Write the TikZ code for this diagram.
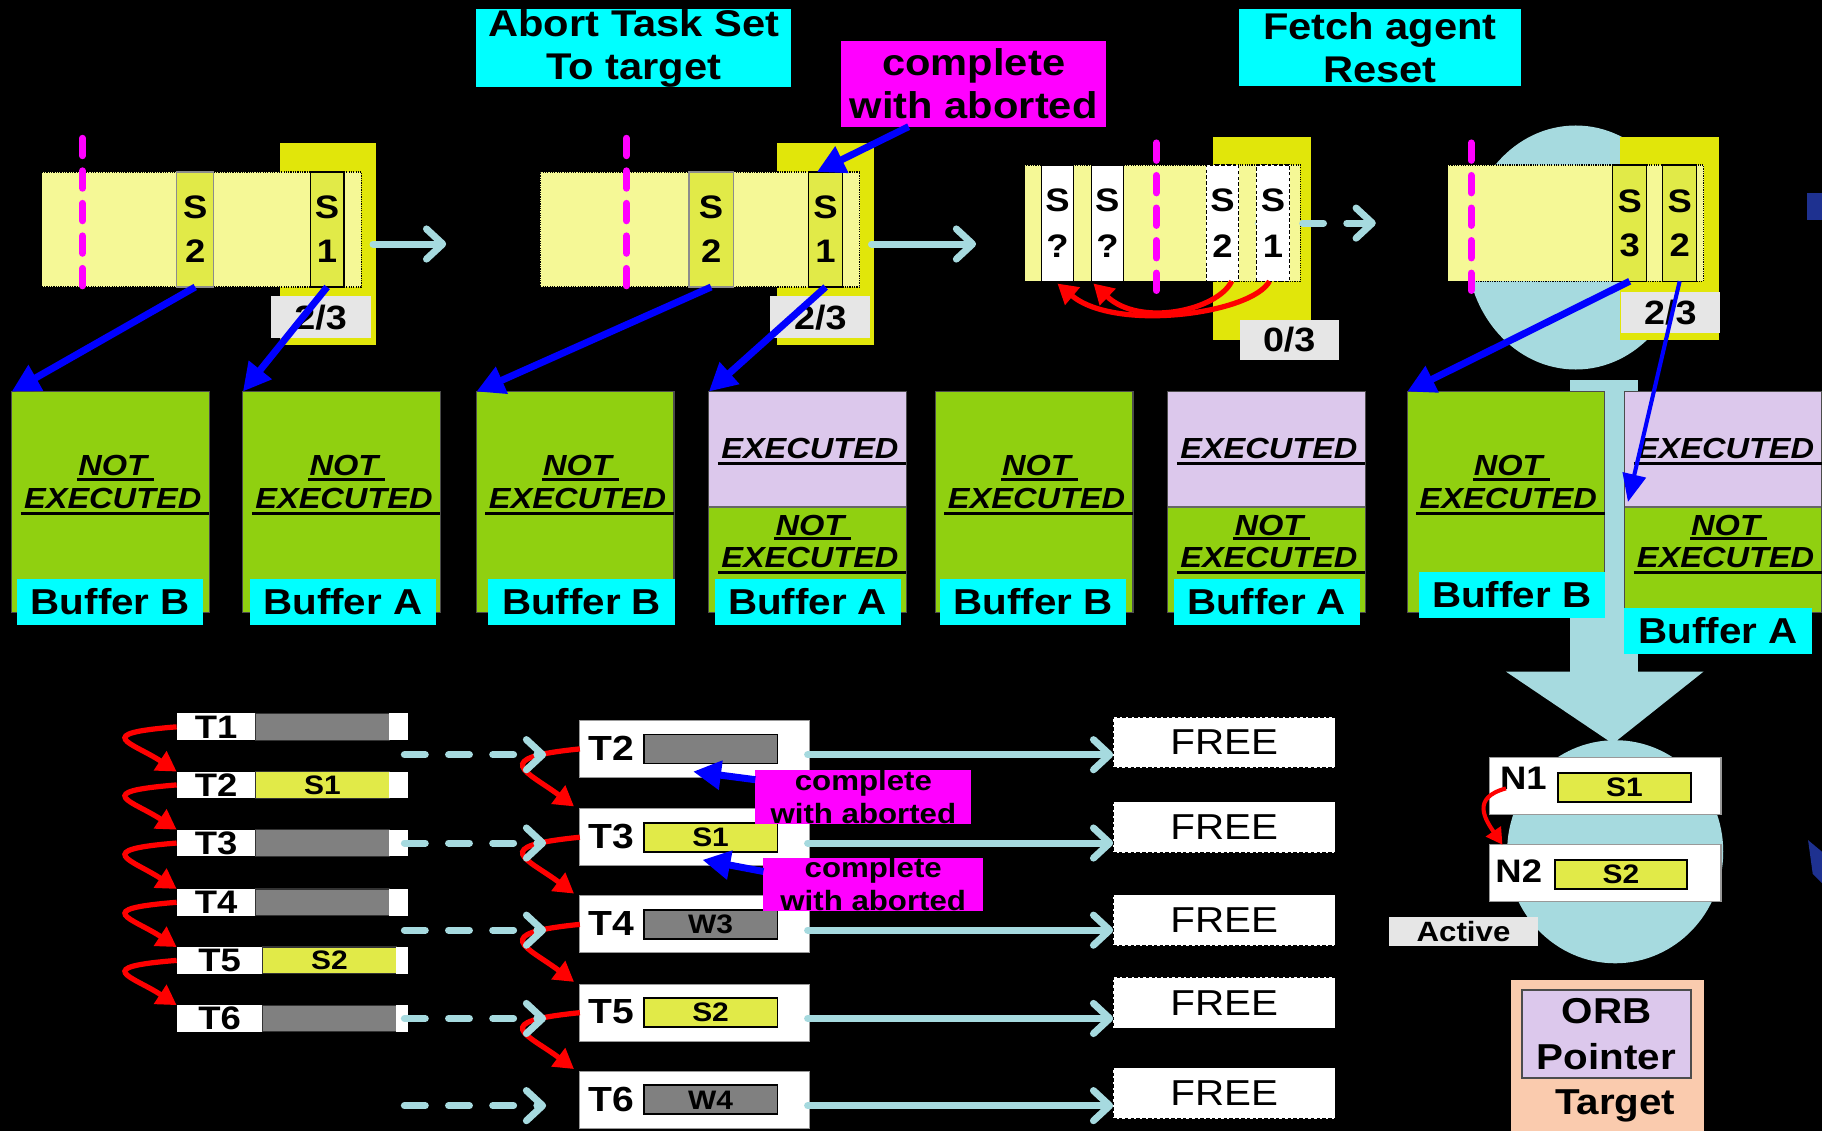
\documentclass[tikz,border=0pt]{standalone}
\usepackage{fontspec}
\setmainfont{Liberation Sans}[FakeStretch=1.12]
\usetikzlibrary{arrows.meta,calc}
\definecolor{cyanL}{HTML}{00FFFF}
\definecolor{magL}{HTML}{FF00FF}
\definecolor{ybg}{HTML}{E1E60A}
\definecolor{ylight}{HTML}{F5F896}
\definecolor{yslot}{HTML}{E1EA48}
\definecolor{greenB}{HTML}{90D010}
\definecolor{lilac}{HTML}{DCC8EC}
\definecolor{greyL}{HTML}{E6E6E6}
\definecolor{greyBar}{HTML}{808080}
\definecolor{lblue}{HTML}{A6DADF}
\definecolor{peach}{HTML}{FACBAE}
\definecolor{blueA}{HTML}{0000FF}
\definecolor{navyA}{HTML}{1E3190}

\newcommand\BufNot[2]{%
  \node[R, wh={170}{190}, fill=greenB, draw=black!70, line width=1pt] (#1) at (#2,337) {};
  \node[itx] (#1n) at ($(#1.north)+(2,64)$) {NOT};
  \node[itx] (#1e) at ($(#1.north)+(2,92)$) {EXECUTED};
  \draw[uline] ($(#1n.base west)+(-1,3)$) -- ($(#1n.base east)+(6,3)$);
  \coordinate (#1u) at ($(#1e.base west)+(0,4)$);
  \draw[uline] ([xshift=-3pt]#1u) -- (#1u -| #1.east);
}
\newcommand\BufEx[2]{%
  \node[R, wh={170}{190}, fill=greenB] (#1) at (#2,337) {};
  \fill[lilac] (#1.north west) rectangle ($(#1.north east)+(0,99)$);
  \draw[black!60, line width=1.5pt] ($(#1.north west)+(0,99)$) -- ($(#1.north east)+(0,99)$);
  \draw[black!70, line width=1pt] (#1.north west) rectangle (#1.south east);
  \node[itx] (#1x) at ($(#1.north)+(2,49)$) {EXECUTED};
  \node[itx] (#1n) at ($(#1.north)+(2,115)$) {NOT};
  \node[itx] (#1e) at ($(#1.north)+(2,143)$) {EXECUTED};
  \coordinate (#1v) at ($(#1x.base west)+(0,4)$);
  \draw[uline] ([xshift=-3pt]#1v) -- (#1v -| #1.east);
  \draw[uline] ($(#1n.base west)+(-1,3)$) -- ($(#1n.base east)+(6,3)$);
  \coordinate (#1u) at ($(#1e.base west)+(0,4)$);
  \draw[uline] ([xshift=-3pt]#1u) -- (#1u -| #1.east);
}
\newcommand\Lrow[7]{%
  \node[R, wh={#4}{23}, fill=white, font=\fontsize{28}{28}\selectfont\bfseries] (#1) at (152,#2) {#3};
  \node[R, wh={115}{23}, fill=#5, draw=black!80, line width=1pt, font=\fontsize{23}{23}\selectfont\bfseries] (#1b) at (#1.north east) {#6};
  \node[R, wh={#7}{23}, fill=white] (#1w) at (#1b.north east) {};
}
\newcommand\Mrow[5]{%
  \node[R, wh={198}{49}, fill=white, draw=black!40, line width=1pt] (#1) at (499,#2) {};
  \node[font=\fontsize{30}{30}\selectfont\bfseries] (#1t) at ($(#1.north west)+(27,24)$) {#3};
  \node[R, wh={115}{25}, fill=#4, draw=black, line width=1.5pt, font=\fontsize{23}{23}\selectfont\bfseries] (#1b) at ($(#1.north west)+(55,12)$) {#5};
}

\begin{document}
\begin{tikzpicture}[x=1pt,y=-1pt,
  every node/.style={inner sep=0pt,outer sep=0pt},
  R/.style={anchor=north west},
  wh/.style 2 args={minimum width=#1pt, minimum height=#2pt},
  ttl/.style={font=\fontsize{32}{37}\selectfont\bfseries, align=center},
  slot/.style={fill=yslot, draw=black!45, line width=1pt, font=\fontsize{28}{38}\selectfont\bfseries, align=center},
  wslot/.style={fill=white, draw=black, line width=1pt, font=\fontsize{28}{40}\selectfont\bfseries, align=center},
  qrect/.style={fill=ylight, draw=black, densely dotted, line width=1pt},
  cnt/.style={fill=greyL, font=\fontsize{29}{29}\selectfont\bfseries},
  pinkdash/.style={draw=magL, line width=6pt, dash pattern=on 15pt off 13pt, line cap=round},
  carr/.style={draw=lblue, line width=6pt, line cap=round, -{Straight Barb[length=14pt,width=26pt,round]}},
  dcarr/.style={carr, dash pattern=on 18pt off 20pt},
  barr/.style={draw=blueA, line width=6pt, -{Triangle[length=24pt,width=24pt]}},
  tbarr/.style={draw=blueA, line width=3.5pt, -{Triangle[length=24pt,width=20pt]}},
  rarr/.style={draw=red, line width=4.5pt, -{Triangle[length=17pt,width=19pt]}},
  itx/.style={font=\fontsize{25}{25}\selectfont\bfseries\itshape},
  uline/.style={draw=black, line width=2.5pt},
  lab/.style={fill=cyanL, font=\fontsize{31}{31}\selectfont\bfseries},
  smag/.style={fill=magL, font=\fontsize{24}{28}\selectfont\bfseries, align=center},
  freebox/.style={fill=white, draw=black, line width=1pt, dash pattern=on 3pt off 2pt, font=\fontsize{31}{31}\selectfont}
]
\fill[black] (0,0) rectangle (1568,973);
\useasboundingbox (0,0) rectangle (1568,973);

% ---- light blue background shapes (group 4 and big arrow) ----
\fill[lblue] (1356,213) ellipse [x radius=94, y radius=105];
\fill[lblue] (1351,327) rectangle (1410,578);
\fill[lblue] (1390,733) ellipse [x radius=93, y radius=96];
\fill[lblue] (1296,578) -- (1466,578) -- (1388,640) -- cycle;

% ---- titles ----
\node[R, wh={271}{66}, fill=cyanL, ttl] (abort) at (410,8) {Abort Task Set\\To target};
\node[R, wh={228}{74}, fill=magL, ttl] (cwa) at (724,35) {complete\\with aborted};
\node[R, wh={243}{66}, fill=cyanL, ttl] (fetch) at (1066,8) {Fetch agent\\Reset};

% ---- group 1 ----
\node[R, wh={83}{174}, fill=ybg] (g1bg) at (241,123) {};
\node[R, wh={275}{99}, qrect] (g1q) at (36,148) {};
\node[R, wh={32}{99}, slot] (g1s2) at (152,148) {S\\2};
\node[R, wh={29}{99}, slot, draw=black] (g1s1) at (267,148) {S\\1};
\draw[pinkdash] (71,119) -- (71,255);
\node[R, wh={86}{36}, cnt] (g1c) at (233,255) {2/3};

% ---- group 2 ----
\node[R, wh={83}{174}, fill=ybg] (g2bg) at (669,123) {};
\node[R, wh={275}{99}, qrect] (g2q) at (465,148) {};
\node[R, wh={38}{99}, slot] (g2s2) at (593,148) {S\\2};
\node[R, wh={29}{99}, slot, draw=black] (g2s1) at (696,148) {S\\1};
\draw[pinkdash] (539,119) -- (539,255);
\node[R, wh={86}{36}, cnt] (g2c) at (663,255) {2/3};

\coordinate (a1s) at (321,210); \coordinate (a1e) at (384,210);
\coordinate (a2s) at (750,210); \coordinate (a2e) at (840,210);
\draw[carr] (a1s) -- (a1e);
\draw[carr] (a2s) -- (a2e);

% ---- group 3 ----
\node[R, wh={84}{175}, fill=ybg] (g3bg) at (1044,118) {};
\node[R, wh={237}{100}, qrect] (g3q) at (882,142) {};
\coordinate (a3s) at (1045,192); \coordinate (a3e) at (1184,192);
\draw[dcarr] (a3s) -- (a3e);
\node[R, wh={28}{100}, wslot] (g3a) at (896,142) {S\\?};
\node[R, wh={28}{100}, wslot] (g3b) at (939,142) {S\\?};
\node[R, wh={28}{100}, wslot, densely dashed] (g3c) at (1038,142) {S\\2};
\node[R, wh={29}{100}, wslot, densely dashed] (g3d) at (1081,142) {S\\1};
\draw[pinkdash] (995,123) -- (995,261);
\node[R, wh={85}{35}, cnt] (g3cnt) at (1067,275) {0/3};
\draw[rarr] ($(g3d.south)+(-3,0)$) .. controls +(-15,28) and +(50,42) .. ($(g3a.south)+(0,2)$);
\draw[rarr] ($(g3c.south)+(8,0)$) .. controls +(-12,25) and +(40,38) .. ($(g3b.south)+(-12,2)$);

% ---- group 4 ----
\node[R, wh={85}{175}, fill=ybg] (g4bg) at (1394,118) {};
\node[R, wh={220}{100}, qrect] (g4q) at (1246,142) {};
\node[R, wh={29}{100}, slot, draw=black] (g4s3) at (1388,142) {S\\3};
\node[R, wh={29}{100}, slot, draw=black] (g4s2) at (1431,142) {S\\2};
\draw[pinkdash] (1266,123) -- (1266,261);
\node[R, wh={85}{36}, cnt] (g4c) at (1395,251) {2/3};

% right-edge navy fragments
\fill[navyA] (1555,166) rectangle (1568,189);
\fill[navyA] (1556,723) -- (1568,733) -- (1568,760) -- (1560,752) -- cycle;

% ---- buffers ----
\BufNot{b1}{10}
\BufNot{b2}{209}
\BufNot{b3}{410}
\BufEx{b4}{610}
\BufNot{b5}{805}
\BufEx{b6}{1005}
\BufNot{b7}{1211}
\BufEx{b8}{1398}
\node[R, wh={160}{40}, lab] (l1b) at (15,498) {Buffer B};
\node[R, wh={160}{40}, lab] (l2b) at (215,498) {Buffer A};
\node[R, wh={161}{40}, lab] (l3b) at (420,498) {Buffer B};
\node[R, wh={160}{40}, lab] (l4b) at (615,498) {Buffer A};
\node[R, wh={160}{40}, lab] (l5b) at (809,498) {Buffer B};
\node[R, wh={160}{40}, lab] (l6b) at (1010,498) {Buffer A};
\node[R, wh={160}{40}, lab] (l7b) at (1221,492) {Buffer B};
\node[R, wh={161}{40}, lab] (l8b) at (1398,523) {Buffer A};

% ---- blue arrows (top) ----
\draw[barr] (g1s2.south) -- (b1.north west);
\draw[barr] (g1s1.south) -- (b2.north west);
\draw[barr] (g2s2.south) -- (b3.north west);
\draw[barr] (g2s1.south) -- (b4.north west);
\draw[barr] ($(cwa.south west)+(58,0)$) -- ($(g2s1.north west)+(7,0)$);
\draw[barr] (g4s3.south) -- (b7.north west);
\draw[tbarr] (g4s2.south) -- ($(b8.west)+(3,0)$);

% ---- left rows ----
\Lrow{r1}{614}{T1}{68}{greyBar}{}{16}
\Lrow{r2}{664}{T2}{68}{yslot}{S1}{16}
\Lrow{r3}{714}{T3}{68}{greyBar}{}{16}
\Lrow{r4}{765}{T4}{68}{greyBar}{}{16}
\Lrow{r5}{815}{T5}{74}{yslot}{S2}{10}
\Lrow{r6}{865}{T6}{74}{greyBar}{}{10}
\foreach \a/\b in {r1/r2,r2/r3,r3/r4,r4/r5,r5/r6}{
  \draw[rarr] (\a.west) .. controls +(-75,6) and +(-38,-25) .. (\b.north west);
}

% ---- middle rows ----
\Mrow{m2}{620}{T2}{greyBar}{}
\Mrow{m3}{696}{T3}{yslot}{S1}
\Mrow{m4}{771}{T4}{greyBar}{W3}
\Mrow{m5}{847}{T5}{yslot}{S2}
\Mrow{m6}{922}{T6}{greyBar}{W4}
\foreach \a/\b in {m2/m3,m3/m4,m4/m5,m5/m6}{
  \draw[rarr] (\a.west) .. controls +(-80,8) and +(-40,-30) .. ($(\b.north west)+(-5,-2)$);
}

% ---- FREE boxes ----
\node[R, wh={191}{44}, freebox] (f1) at (958,617) {FREE};
\node[R, wh={191}{44}, freebox] (f2) at (958,690) {FREE};
\node[R, wh={191}{44}, freebox] (f3) at (958,770) {FREE};
\node[R, wh={191}{44}, freebox] (f4) at (958,841) {FREE};
\node[R, wh={191}{44}, freebox] (f5) at (958,919) {FREE};

\foreach \m/\f [count=\i] in {m2/f1,m3/f2,m4/f3,m5/f4,m6/f5}{
  \coordinate (ds\i) at ($(\m.west)+(-151,5)$);
  \coordinate (de\i) at ($(\m.west)+(-29,5)$);
  \draw[dcarr] (ds\i) -- (de\i);
  \coordinate (cs\i) at ($(\m.east)+(-2,5)$);
  \draw[carr] (cs\i) -- (cs\i -| \f.west);
}

% ---- small magenta notes ----
\node[R, wh={186}{46}, smag] (sc1) at (650,663) {complete\\with aborted};
\node[R, wh={189}{46}, smag] (sc2) at (657,738) {complete\\with aborted};
\draw[barr] ($(sc1.north west)+(0,8)$) -- ($(m2b.south)+(-15,7)$);
\draw[barr] ($(sc2.north west)+(0,12)$) -- ($(m3b.south)+(-7,7)$);

% ---- N1 / N2 ----
\node[R, wh={199}{49}, fill=white, draw=black!40, line width=1pt] (n1) at (1282,652) {};
\node[font=\fontsize{28}{28}\selectfont\bfseries] (n1t) at (1311,670) {N1};
\node[R, wh={114}{25}, fill=yslot, draw=black, line width=1.5pt, font=\fontsize{23}{23}\selectfont\bfseries] (n1b) at (1341,665) {S1};
\node[R, wh={199}{49}, fill=white, draw=black!40, line width=1pt] (n2) at (1282,727) {};
\node[font=\fontsize{28}{28}\selectfont\bfseries] (n2t) at (1307,750) {N2};
\node[R, wh={114}{25}, fill=yslot, draw=black, line width=1.5pt, font=\fontsize{23}{23}\selectfont\bfseries] (n2b) at (1338,740) {S2};
\draw[draw=red, line width=3.5pt, -{Triangle[length=14pt,width=15pt]}] ($(n1.west)+(14,2)$) .. controls +(-30,8) and +(-15,-22) .. ($(n2.north west)+(11,0)$);

\node[R, wh={129}{25}, fill=greyL, font=\fontsize{24}{24}\selectfont\bfseries] (active) at (1195,789) {Active};

% ---- target ----
\node[R, wh={166}{131}, fill=peach] (target) at (1300,843) {};
\node[R, wh={145}{76}, fill=lilac, draw=black!70, line width=1.5pt, font=\fontsize{31}{39}\selectfont\bfseries, align=center] (orb) at (1310,852) {ORB\\Pointer};
\node[font=\fontsize{31}{31}\selectfont\bfseries] (targett) at (1390,952) {Target};
\end{tikzpicture}
\end{document}
